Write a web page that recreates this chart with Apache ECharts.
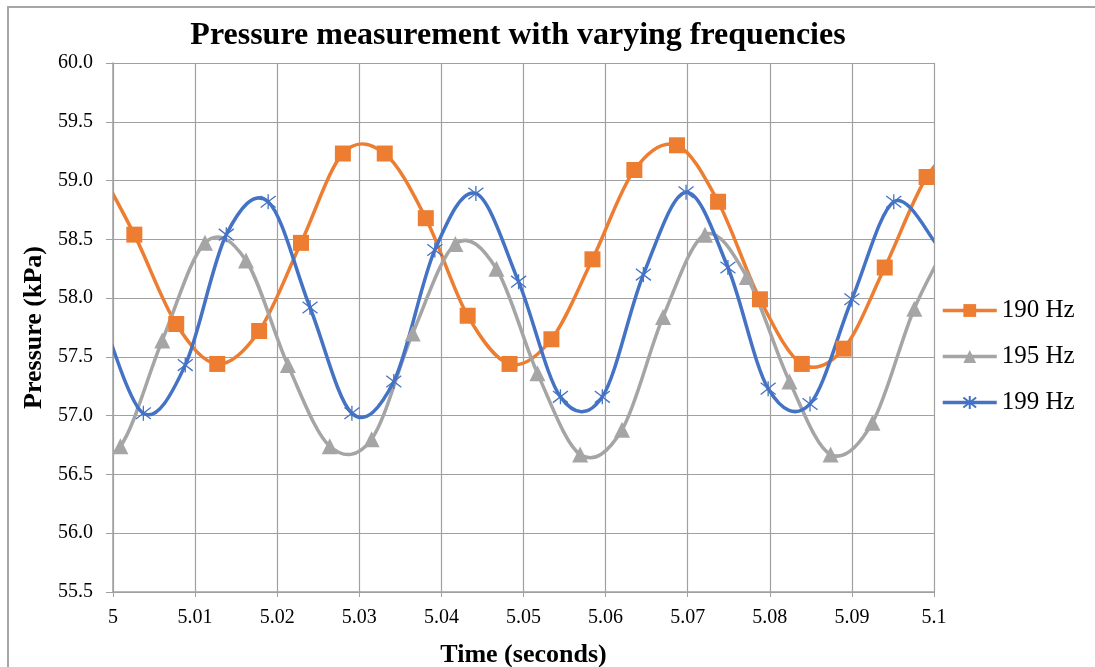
<!DOCTYPE html>
<html>
<head>
<meta charset="utf-8">
<script src="https://cdn.jsdelivr.net/npm/echarts@6/dist/echarts.min.js"></script>
<style>html,body{margin:0;padding:0;background:#fff;}#c{width:1095px;height:667px;}</style>
</head>
<body>
<div id="c"></div>
<script>
const seriesNames = ['190 Hz', '195 Hz', '199 Hz'];
const seriesColors = ['#ED7D31', '#A5A5A5', '#4472C4'];
const t190 = [4.9974, 5.0026, 5.0077, 5.0127, 5.0178, 5.0229, 5.0280, 5.0331, 5.0381, 5.0432, 5.0483, 5.0534, 5.0584, 5.0635, 5.0687, 5.0737, 5.0788, 5.0839, 5.0890, 5.0940, 5.0991, 5.1042];
const v190 = [59.22, 58.54, 57.78, 57.44, 57.72, 58.47, 59.23, 59.23, 58.68, 57.85, 57.44, 57.65, 58.33, 59.09, 59.30, 58.82, 57.99, 57.44, 57.57, 58.26, 59.03, 59.40];
const t195 = [4.9959, 5.0009, 5.0060, 5.0112, 5.0162, 5.0213, 5.0264, 5.0315, 5.0365, 5.0417, 5.0467, 5.0517, 5.0569, 5.0620, 5.0670, 5.0721, 5.0772, 5.0824, 5.0874, 5.0925, 5.0976, 5.1027];
const v195 = [56.68, 56.74, 57.64, 58.47, 58.32, 57.43, 56.74, 56.80, 57.70, 58.46, 58.25, 57.36, 56.67, 56.88, 57.84, 58.54, 58.18, 57.29, 56.67, 56.94, 57.91, 58.60];
const t199 = [4.9986, 5.0037, 5.0088, 5.0138, 5.0189, 5.0240, 5.0291, 5.0342, 5.0392, 5.0442, 5.0494, 5.0545, 5.0596, 5.0646, 5.0698, 5.0749, 5.0798, 5.0849, 5.0900, 5.0951, 5.1002];
const v199 = [57.85, 57.02, 57.43, 58.54, 58.82, 57.92, 57.02, 57.29, 58.41, 58.89, 58.14, 57.16, 57.16, 58.20, 58.90, 58.26, 57.23, 57.10, 57.99, 58.82, 58.47];

const FONT = "'Liberation Serif', 'Times New Roman', serif";
const zip = (t, v) => t.map((x, i) => [x, v[i]]);
const starPath = 'path://M0,0L10,10M10,0L0,10M5,-1.5L5,11.5';
const datasets = [[t190, v190], [t195, v195], [t199, v199]];
const symbols = ['rect', 'triangle', starPath];

// Excel-like smoothed curve (Catmull-Rom Bezier) through the data points, positioned via the axes.
function curveRenderer(t, v, color) {
  return function (params, api) {
    if (params.dataIndex !== 0) return null;
    const pts = t.map((x, i) => api.coord([x, v[i]]));
    const n = pts.length;
    let d = 'M' + pts[0][0] + ',' + pts[0][1];
    for (let i = 0; i < n - 1; i++) {
      const p0 = pts[Math.max(i - 1, 0)], p1 = pts[i], p2 = pts[i + 1], p3 = pts[Math.min(i + 2, n - 1)];
      const c1 = [p1[0] + (p2[0] - p0[0]) / 6, p1[1] + (p2[1] - p0[1]) / 6];
      const c2 = [p2[0] - (p3[0] - p1[0]) / 6, p2[1] - (p3[1] - p1[1]) / 6];
      d += 'C' + c1[0] + ',' + c1[1] + ',' + c2[0] + ',' + c2[1] + ',' + p2[0] + ',' + p2[1];
    }
    const cs = params.coordSys;
    return {
      type: 'path',
      shape: {pathData: d},
      style: {fill: 'none', stroke: color, lineWidth: 3.5, lineJoin: 'round', lineCap: 'round'},
      clipPath: {type: 'rect', shape: {x: cs.x, y: cs.y, width: cs.width, height: cs.height}},
      silent: true
    };
  };
}

const series = [];
datasets.forEach(([t, v], k) => {
  series.push({
    name: seriesNames[k] + ' curve', type: 'custom', data: zip(t, v),
    renderItem: curveRenderer(t, v, seriesColors[k]), clip: true, silent: true, z: 2
  });
  const isStar = k === 2;
  series.push({
    name: seriesNames[k], type: 'line', data: zip(t, v), clip: true,
    symbol: symbols[k], symbolSize: isStar ? 15 : 16, showAllSymbol: true,
    lineStyle: {color: seriesColors[k], width: 0, opacity: 0},
    itemStyle: isStar ? {color: 'rgba(0,0,0,0)', borderColor: seriesColors[k], borderWidth: 1.3}
                      : {color: seriesColors[k]},
    z: 2
  });
});

const chart = echarts.init(document.getElementById('c'), null, {renderer: 'canvas'});
chart.setOption({
  animation: false,
  backgroundColor: '#fff',
  graphic: [{
    type: 'rect', shape: {x: 8, y: 7, width: 1100, height: 700},
    style: {fill: 'none', stroke: '#a6a6a6', lineWidth: 2}, silent: true, z: -1
  }],
  title: {
    text: 'Pressure measurement with varying frequencies',
    left: 513, top: 15, textAlign: 'center',
    textStyle: {fontFamily: FONT, fontWeight: 'bold', fontSize: 32, color: '#000'}
  },
  legend: {
    orient: 'vertical', left: 941, top: 298, padding: 0,
    itemWidth: 54, itemHeight: 16, itemGap: 21,
    textStyle: {fontFamily: FONT, fontSize: 25, color: '#000', lineHeight: 24},
    data: seriesNames.map((n, k) => ({
      name: n,
      lineStyle: {color: seriesColors[k], width: 3.5, opacity: 1}
    }))
  },
  grid: {left: 113, right: 161, top: 63, bottom: 75, containLabel: false, outerBoundsMode: 'none'},
  xAxis: {
    type: 'value', min: 5, max: 5.1, interval: 0.01,
    name: 'Time (seconds)', nameLocation: 'middle', nameGap: 50,
    nameTextStyle: {fontFamily: FONT, fontWeight: 'bold', fontSize: 26, color: '#000'},
    axisLine: {show: true, lineStyle: {color: '#a0a0a0', width: 1.5}},
    axisTick: {show: true, length: 5, lineStyle: {color: '#a0a0a0'}},
    axisLabel: {fontFamily: FONT, fontSize: 20, color: '#000', margin: 16,
      formatter: v => String(parseFloat(v.toFixed(2)))},
    splitLine: {show: true, lineStyle: {color: '#a0a0a0', width: 1.2}}
  },
  yAxis: {
    type: 'value', min: 55.5, max: 60, interval: 0.5,
    name: 'Pressure (kPa)', nameLocation: 'middle', nameGap: 57,
    nameTextStyle: {fontFamily: FONT, fontWeight: 'bold', fontSize: 26, color: '#000'},
    axisLine: {show: true, lineStyle: {color: '#a0a0a0', width: 1.5}},
    axisTick: {show: true, length: 7, lineStyle: {color: '#a0a0a0'}},
    axisLabel: {fontFamily: FONT, fontSize: 20, color: '#000', margin: 20,
      formatter: v => v.toFixed(1)},
    splitLine: {show: true, lineStyle: {color: '#a0a0a0', width: 1.2}}
  },
  series: series
});
</script>
</body>
</html>
